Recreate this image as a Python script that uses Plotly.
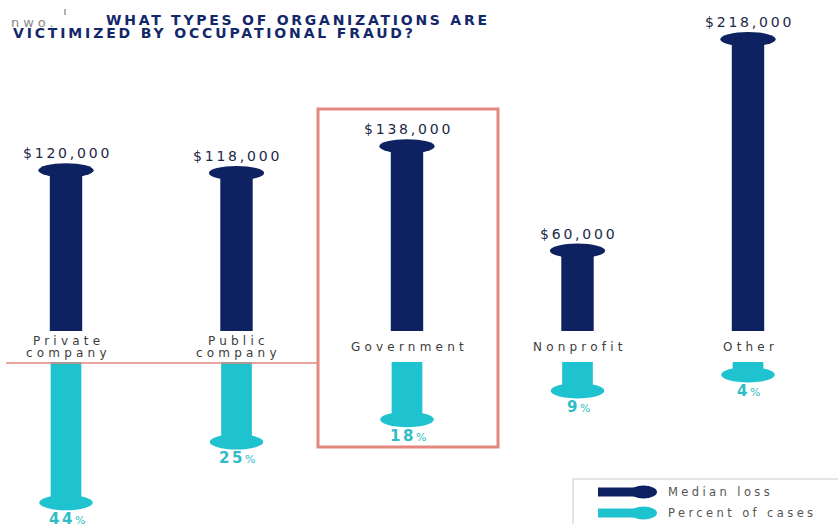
import plotly.graph_objects as go

# Organization types and their stats
categories = ["Private<br>company", "Public<br>company", "Government", "Nonprofit", "Other"]
median_loss = [120000, 118000, 138000, 60000, 218000]
loss_labels = ["$120,000", "$118,000", "$138,000", "$60,000", "$218,000"]
pct_cases = [44, 25, 18, 9, 4]

NAVY = "#0e2160"
CYAN = "#1fc3cf"
SALMON = "#e3877f"
W, H = 838, 524

idx = list(range(len(categories)))


def px_x(p):
    return p / W


def px_y(p):
    return 1 - p / H


def spaced(text, ls):
    return f'<span style="letter-spacing:{ls}px">{text}</span>'


fig = go.Figure()

# Median loss bars (upper panel)
fig.add_trace(go.Bar(x=idx, y=median_loss, width=0.19, marker=dict(color=NAVY, line_width=0),
                     yaxis="y", showlegend=False, hoverinfo="skip"))
# Percent of cases bars (lower panel, hanging down)
fig.add_trace(go.Bar(x=idx, y=pct_cases, width=0.18, marker=dict(color=CYAN, line_width=0),
                     yaxis="y2", showlegend=False, hoverinfo="skip"))

shapes = []
annotations = []

cap_hw = 0.162
loss_cap_hh = 5300
pct_cap_hh = 2.4

for i, (v, p) in enumerate(zip(median_loss, pct_cases)):
    # rounded caps at the end of each bar
    shapes.append(dict(type="circle", xref="x", yref="y", x0=i - cap_hw, x1=i + cap_hw,
                       y0=v - loss_cap_hh, y1=v + loss_cap_hh, fillcolor=NAVY, line_width=0))
    shapes.append(dict(type="circle", xref="x", yref="y2", x0=i - cap_hw * 0.97, x1=i + cap_hw * 0.97,
                       y0=p - pct_cap_hh, y1=p + pct_cap_hh, fillcolor=CYAN, line_width=0))
    # value labels
    annotations.append(dict(x=i, y=v, xref="x", yref="y", text=spaced(loss_labels[i], 2.8),
                            showarrow=False, yanchor="bottom", yshift=7, xshift=1,
                            font=dict(family="DejaVu Sans", size=14, color="#1d2747")))
    annotations.append(dict(x=i, y=p, xref="x", yref="y2",
                            text=spaced(f'<b>{p}</b><span style="font-size:11px">%</span>', 2.6),
                            showarrow=False, yanchor="top", yshift=-5, xshift=2,
                            font=dict(family="DejaVu Sans", size=15, color="#30bcc7")))

# category labels between the two panels
for i, cat in enumerate(categories):
    lines = cat.split("<br>")
    if len(lines) == 1:
        ys = [347]
    else:
        ys = [341, 353]
    for line, yp in zip(lines, ys):
        annotations.append(dict(x=i, y=px_y(yp), xref="x", yref="paper", text=spaced(line, 4.2),
                                showarrow=False, yanchor="middle", xshift=2,
                                font=dict(family="DejaVu Sans", size=12, color="#3c3c3c")))

# highlight box around Government and divider line
shapes.append(dict(type="rect", xref="paper", yref="paper", x0=px_x(318), x1=px_x(498),
                   y0=px_y(447), y1=px_y(109), line=dict(color=SALMON, width=3)))
shapes.append(dict(type="line", xref="paper", yref="paper", x0=px_x(6), x1=px_x(317),
                   y0=px_y(363), y1=px_y(363), line=dict(color=SALMON, width=1.5)))

# title and logo
annotations.append(dict(x=px_x(104), y=px_y(20.5), xref="paper", yref="paper", xanchor="left",
                        yanchor="middle", showarrow=False,
                        text=spaced("<b>WHAT TYPES OF ORGANIZATIONS ARE</b>", 2.75),
                        font=dict(family="DejaVu Sans", size=14, color="#13286a")))
annotations.append(dict(x=px_x(11), y=px_y(32.5), xref="paper", yref="paper", xanchor="left",
                        yanchor="middle", showarrow=False,
                        text=spaced("<b>VICTIMIZED BY OCCUPATIONAL FRAUD?</b>", 2.85),
                        font=dict(family="DejaVu Sans", size=14, color="#13286a")))
annotations.append(dict(x=px_x(9), y=px_y(22), xref="paper", yref="paper", xanchor="left",
                        yanchor="middle", showarrow=False, text=spaced("nwo.", 4),
                        font=dict(family="DejaVu Sans", size=13, color="#8a8a8a")))
shapes.append(dict(type="line", xref="paper", yref="paper", x0=px_x(65), x1=px_x(65),
                   y0=px_y(15), y1=px_y(9), line=dict(color="#666666", width=1)))

# legend panel
shapes.append(dict(type="rect", xref="paper", yref="paper", x0=px_x(573), x1=px_x(845),
                   y0=px_y(535), y1=px_y(479), line=dict(color="#c8c8c8", width=1),
                   fillcolor="white"))
for yc, col, lab in [(492, NAVY, "Median loss"), (513, CYAN, "Percent of cases")]:
    shapes.append(dict(type="rect", xref="paper", yref="paper", x0=px_x(598), x1=px_x(644),
                       y0=px_y(yc + 4.5), y1=px_y(yc - 4.5), fillcolor=col, line_width=0))
    shapes.append(dict(type="circle", xref="paper", yref="paper", x0=px_x(630), x1=px_x(657),
                       y0=px_y(yc + 6.5), y1=px_y(yc - 6.5), fillcolor=col, line_width=0))
    annotations.append(dict(x=px_x(666), y=px_y(yc), xref="paper", yref="paper", xanchor="left",
                            yanchor="middle", showarrow=False, text=spaced(lab, 3.4),
                            font=dict(family="DejaVu Sans", size=11.5, color="#555555")))

fig.update_layout(
    width=W, height=H, autosize=False,
    margin=dict(l=0, r=0, t=0, b=0),
    paper_bgcolor="white", plot_bgcolor="white",
    barmode="overlay",
    xaxis=dict(visible=False, range=[-66 / 170.5, (W - 66) / 170.5], fixedrange=True),
    yaxis=dict(visible=False, domain=[1 - 331 / H, 1], range=[0, 331 / 1.3387 * 1000]),
    yaxis2=dict(visible=False, domain=[0, 1 - 362 / H], range=[(H - 362) / 3.196, 0], anchor="x"),
    shapes=shapes,
    annotations=annotations,
)

fig.write_html("out.html")
